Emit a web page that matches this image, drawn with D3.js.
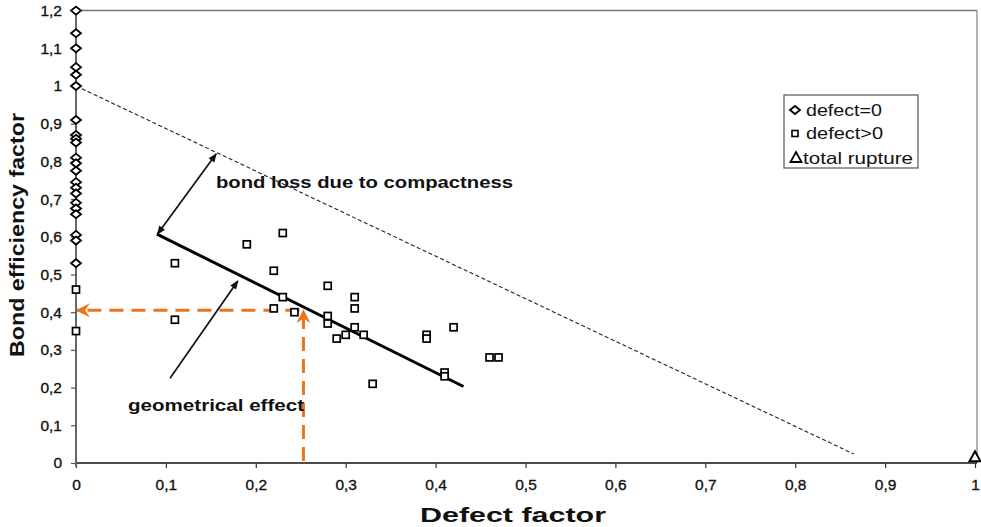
<!DOCTYPE html>
<html><head><meta charset="utf-8">
<script src="https://cdn.jsdelivr.net/npm/d3@7"></script>
<style>
html,body{margin:0;padding:0;background:#fff;}
svg text{font-family:"Liberation Sans",Arial,Helvetica,sans-serif;}
</style></head>
<body>
<svg id="chart" width="981" height="527"></svg>
<script>
// ---- data ----
const xTicks = [0,0.1,0.2,0.3,0.4,0.5,0.6,0.7,0.8,0.9,1];
const yTicks = [0,0.1,0.2,0.3,0.4,0.5,0.6,0.7,0.8,0.9,1,1.1,1.2];
// defect = 0 (all at defect factor 0)
const defectZeroY = [1.2,1.14,1.1,1.05,1.03,1.0,0.91,0.87,0.86,0.85,0.81,0.795,0.775,0.745,0.73,0.715,0.69,0.675,0.66,0.605,0.59,0.53];
// defect > 0
const defectPosX = [0,0,0.11,0.11,0.19,0.23,0.22,0.23,0.22,0.243,0.28,0.28,0.28,0.29,0.30,0.31,0.31,0.31,0.32,0.33,0.39,0.39,0.42,0.41,0.41,0.46,0.47];
const defectPosY = [0.46,0.35,0.53,0.38,0.58,0.61,0.51,0.44,0.41,0.40,0.47,0.39,0.37,0.33,0.34,0.44,0.41,0.36,0.34,0.21,0.34,0.33,0.36,0.24,0.23,0.28,0.28];
// total rupture
const ruptureX = [1];
const ruptureY = [0.015];
// lines
const trendX = [0.09,0.431];
const trendY = [0.607,0.203];
const limitX = [0,0.865];
const limitY = [1.0,0.024];
const guideX = 0.253, guideY = 0.405;
const legendLabels = ["defect=0","defect>0","total rupture"];

// ---- layout ----
const svg = d3.select("#chart");
const x = d3.scaleLinear().domain([0,1]).range([76,975]);
const y = d3.scaleLinear().domain([0,1.2]).range([463,10.6]);
const loc = d3.formatLocale({decimal:",",thousands:".",grouping:[3],currency:["",""]});
const fmt = v => loc.format("~g")(+v.toFixed(2));

const defs = svg.append("defs");
defs.append("marker").attr("id","arrBlk").attr("viewBox","0 -5 10 10").attr("refX",9).attr("refY",0)
  .attr("markerWidth",11).attr("markerHeight",9).attr("markerUnits","userSpaceOnUse").attr("orient","auto-start-reverse")
  .append("path").attr("d","M0,-4L10,0L0,4Z").attr("fill","#111");
defs.append("marker").attr("id","arrOr").attr("viewBox","0 -6 12 12").attr("refX",11).attr("refY",0)
  .attr("markerWidth",14).attr("markerHeight",14).attr("markerUnits","userSpaceOnUse").attr("orient","auto")
  .append("path").attr("d","M0,-6L12,0L0,6L4,0Z").attr("fill","#E8761E");

// frame (top / right)
svg.append("line").attr("x1",x(0)).attr("x2",x(1)+2).attr("y1",y(1.2)).attr("y2",y(1.2)).attr("stroke","#777").attr("stroke-width",1.5);
svg.append("line").attr("x1",x(1)+2).attr("x2",x(1)+2).attr("y1",y(1.2)).attr("y2",y(0)).attr("stroke","#999").attr("stroke-width",1.5);

// axes
const xAxis = svg.append("g").attr("transform",`translate(0,${y(0)})`)
  .call(d3.axisBottom(x).tickValues(xTicks).tickFormat(fmt).tickSize(5).tickPadding(11));
const yAxis = svg.append("g").attr("transform",`translate(${x(0)},0)`)
  .call(d3.axisLeft(y).tickValues(yTicks).tickFormat(fmt).tickSize(5).tickPadding(9));
xAxis.select(".domain").attr("stroke","#111").attr("stroke-width",1.6);
yAxis.select(".domain").attr("stroke","#666").attr("stroke-width",2);
xAxis.selectAll(".tick line").attr("stroke","#333").attr("stroke-width",1.2);
yAxis.selectAll(".tick line").attr("stroke","#555").attr("stroke-width",1.2);
[xAxis,yAxis].forEach(a => a.selectAll("text").attr("font-size",15.5).attr("fill","#111")
  .attr("stroke","#111").attr("stroke-width",0.35).attr("font-family","Liberation Sans, Arial, sans-serif"));
xAxis.select(".domain").attr("d",`M${x(0)},0H${x(1)+2}`);
yAxis.select(".domain").attr("d",`M0,${y(0)+4}V${y(1.2)}`);

// limit dashed line
svg.append("line").attr("x1",x(limitX[0])).attr("y1",y(limitY[0])).attr("x2",x(limitX[1])).attr("y2",y(limitY[1]))
  .attr("stroke","#222").attr("stroke-width",1.1).attr("stroke-dasharray","4,2.5");

// trend line
svg.append("line").attr("x1",x(trendX[0])).attr("y1",y(trendY[0])).attr("x2",x(trendX[1])).attr("y2",y(trendY[1]))
  .attr("stroke","#000").attr("stroke-width",3);

// orange guide lines
svg.append("line").attr("x1",x(guideX)).attr("y1",y(0)-2).attr("x2",x(guideX)).attr("y2",y(guideY))
  .attr("stroke","#E8761E").attr("stroke-width",3).attr("stroke-dasharray","14,8").attr("marker-end","url(#arrOr)");
svg.append("line").attr("x1",x(guideX)-4).attr("y1",y(guideY)).attr("x2",x(0)+1).attr("y2",y(guideY))
  .attr("stroke","#E8761E").attr("stroke-width",3).attr("stroke-dasharray","14,8").attr("marker-end","url(#arrOr)");

// annotation arrows
svg.append("line").attr("x1",x(0.0905)).attr("y1",y(0.607)).attr("x2",x(0.156)).attr("y2",y(0.82))
  .attr("stroke","#111").attr("stroke-width",1.7).attr("marker-start","url(#arrBlk)").attr("marker-end","url(#arrBlk)");
svg.append("line").attr("x1",x(0.1046)).attr("y1",y(0.225)).attr("x2",x(0.18)).attr("y2",y(0.483))
  .attr("stroke","#111").attr("stroke-width",1.7).attr("marker-end","url(#arrBlk)");

svg.append("text").attr("x",216).attr("y",188).attr("font-size",16).attr("font-weight","bold").attr("fill","#111")
  .attr("textLength",297).attr("lengthAdjust","spacingAndGlyphs").text("bond loss due to compactness");
svg.append("text").attr("x",128).attr("y",411).attr("font-size",16).attr("font-weight","bold").attr("fill","#111")
  .attr("textLength",176).attr("lengthAdjust","spacingAndGlyphs").text("geometrical effect");

// markers
const diamond = (cx,cy,s) => `M${cx},${cy-s*0.8}L${cx+s},${cy}L${cx},${cy+s*0.8}L${cx-s},${cy}Z`;
svg.append("g").selectAll("path").data(defectZeroY).join("path")
  .attr("d",d=>diamond(x(0),y(d),5)).attr("fill","#fff").attr("stroke","#000").attr("stroke-width",1.8);
svg.append("g").selectAll("rect").data(defectPosX.map((d,i)=>[d,defectPosY[i]])).join("rect")
  .attr("x",d=>x(d[0])-3.5).attr("y",d=>y(d[1])-3.5).attr("width",7).attr("height",7)
  .attr("fill","#fff").attr("stroke","#000").attr("stroke-width",1.7);
svg.append("g").selectAll("path").data(ruptureX.map((d,i)=>[d,ruptureY[i]])).join("path")
  .attr("d",d=>`M${x(d[0])},${y(d[1])-6}L${x(d[0])+5.5},${y(d[1])+4}L${x(d[0])-5.5},${y(d[1])+4}Z`)
  .attr("fill","#fff").attr("stroke","#000").attr("stroke-width",2);

// axis titles
svg.append("text").attr("x",420).attr("y",522).attr("font-size",21).attr("font-weight","bold").attr("fill","#111")
  .attr("textLength",186).attr("lengthAdjust","spacingAndGlyphs").text("Defect factor");
svg.append("text").attr("transform","translate(24,357) rotate(-90)").attr("font-size",21).attr("font-weight","bold").attr("fill","#111")
  .attr("textLength",244).attr("lengthAdjust","spacingAndGlyphs").text("Bond efficiency factor");

// legend
const lg = svg.append("g");
lg.append("rect").attr("x",784).attr("y",95).attr("width",134).attr("height",73).attr("fill","#fff").attr("stroke","#555").attr("stroke-width",1.2);
const ly = [110,133.5,158];
const lLen = [76,77,110];
lg.append("path").attr("d",diamond(795,ly[0],5)).attr("fill","#fff").attr("stroke","#000").attr("stroke-width",1.8);
lg.append("rect").attr("x",792).attr("y",ly[1]-3).attr("width",6).attr("height",6).attr("fill","#fff").attr("stroke","#000").attr("stroke-width",1.6);
lg.append("path").attr("d",`M796,${ly[2]-6}L801.5,${ly[2]+4}L790.5,${ly[2]+4}Z`).attr("fill","#fff").attr("stroke","#000").attr("stroke-width",1.8);
lg.selectAll("text.l").data(legendLabels).join("text").attr("class","l")
  .attr("x",(d,i)=>i===2?803:806).attr("y",(d,i)=>ly[i]+5.5).attr("font-size",16.5).attr("fill","#111")
  .attr("textLength",(d,i)=>lLen[i]).attr("lengthAdjust","spacingAndGlyphs").text(d=>d);
</script>
</body></html>
